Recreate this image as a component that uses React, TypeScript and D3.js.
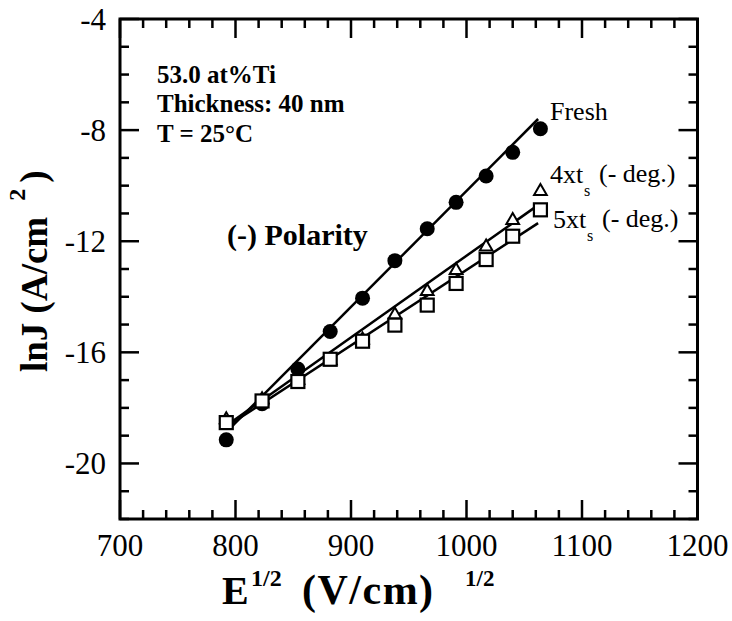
import React, { useEffect, useRef } from "react";
import * as d3 from "d3";

// sqrt(E) values (V/cm)^1/2, shared by all three runs
const fieldE = [792, 823, 854, 882, 910, 938, 966, 991, 1017, 1040, 1064];
const freshLnJ = [-19.15, -17.85, -16.6, -15.25, -14.05, -12.7, -11.55, -10.6, -9.65, -8.8, -7.95];
const deg4LnJ = [-18.42, -17.7, -17.0, -16.3, -15.55, -14.65, -13.8, -13.05, -12.2, -11.25, -10.2];
const deg5LnJ = [-18.53, -17.75, -17.05, -16.25, -15.6, -15.02, -14.3, -13.52, -12.66, -11.82, -10.87];

// fitted straight lines, start / end
const fitE = [795, 1062];
const freshFit = [-18.75, -7.6];
const deg4Fit = [-18.55, -10.7];
const deg5Fit = [-18.6, -11.35];

const xTicks = [700, 800, 900, 1000, 1100, 1200];
const yTicks = [-20, -16, -12, -8, -4];
const infoLines = ["53.0 at%Ti", "Thickness: 40 nm", "T = 25\u00B0C"];

const W = 732;
const H = 621;
const FONT = "'Liberation Serif', 'Times New Roman', Times, serif";

function App() {
  const ref = useRef<SVGSVGElement>(null);

  useEffect(() => {
    const svg = d3.select(ref.current);
    svg.selectAll("*").remove();

    const left = 120, right = 697.5, top = 19, bottom = 519;
    const x = d3.scaleLinear().domain([700, 1200]).range([left, right]);
    const y = d3.scaleLinear().domain([-22, -4]).range([bottom, top]);

    const g = svg.append("g").style("font-family", FONT);

    // ticks on all four sides, pointing inward
    const minorX = d3.range(700, 1201, 20);
    const minorY = d3.range(-22, -3, 1);
    const tickLen = (isMajor: boolean) => (isMajor ? 19 : 9);

    minorX.forEach((v) => {
      const len = tickLen(v % 100 === 0);
      g.append("line").attr("x1", x(v)).attr("x2", x(v)).attr("y1", bottom).attr("y2", bottom - len)
        .attr("stroke", "#000").attr("stroke-width", 2.5);
      g.append("line").attr("x1", x(v)).attr("x2", x(v)).attr("y1", top).attr("y2", top + len)
        .attr("stroke", "#000").attr("stroke-width", 2.5);
    });
    minorY.forEach((v) => {
      const len = tickLen(v % 4 === 0);
      g.append("line").attr("x1", left).attr("x2", left + len).attr("y1", y(v)).attr("y2", y(v))
        .attr("stroke", "#000").attr("stroke-width", 2.5);
      g.append("line").attr("x1", right).attr("x2", right - len).attr("y1", y(v)).attr("y2", y(v))
        .attr("stroke", "#000").attr("stroke-width", 2.5);
    });

    g.append("rect")
      .attr("x", left).attr("y", top)
      .attr("width", right - left).attr("height", bottom - top)
      .attr("fill", "none").attr("stroke", "#000").attr("stroke-width", 3);

    // tick labels
    g.selectAll(".xl").data(xTicks).enter().append("text")
      .attr("x", (d) => x(d)).attr("y", 556)
      .attr("text-anchor", "middle").style("font-size", "31px")
      .text((d) => d);
    g.selectAll(".yl").data(yTicks).enter().append("text")
      .attr("x", 106).attr("y", (d) => y(d) + 11)
      .attr("text-anchor", "end").style("font-size", "31px")
      .text((d) => d);

    // fitted lines
    const fits = [freshFit, deg4Fit, deg5Fit];
    const line = d3.line<[number, number]>().x((d) => x(d[0])).y((d) => y(d[1]));
    fits.forEach((f) => {
      g.append("path")
        .attr("d", line(fitE.map((e, i) => [e, f[i]] as [number, number])))
        .attr("fill", "none").attr("stroke", "#000").attr("stroke-width", 2.5);
    });

    // fresh: filled circles
    g.selectAll(".fresh").data(fieldE).enter().append("circle")
      .attr("cx", (d) => x(d)).attr("cy", (_, i) => y(freshLnJ[i]))
      .attr("r", 7.5).attr("fill", "#000");

    // 4xts: open triangles
    const tri = d3.symbol().type(d3.symbolTriangle).size(70);
    g.selectAll(".deg4").data(fieldE).enter().append("path")
      .attr("d", tri)
      .attr("transform", (d, i) => `translate(${x(d)},${y(deg4LnJ[i])})`)
      .attr("fill", "#fff").attr("stroke", "#000").attr("stroke-width", 2);

    // 5xts: open squares
    g.selectAll(".deg5").data(fieldE).enter().append("rect")
      .attr("x", (d) => x(d) - 6.5).attr("y", (_, i) => y(deg5LnJ[i]) - 6.5)
      .attr("width", 13).attr("height", 13)
      .attr("fill", "#fff").attr("stroke", "#000").attr("stroke-width", 2.2);

    // info block
    infoLines.forEach((t, i) => {
      g.append("text").attr("x", 157).attr("y", 83 + i * 29.3)
        .style("font-size", "25px").style("font-weight", "bold").text(t);
    });
    g.append("text").attr("x", 227).attr("y", 245)
      .style("font-size", "30px").style("font-weight", "bold").text("(-) Polarity");

    // series labels
    g.append("text").attr("x", 550).attr("y", 120).style("font-size", "26px").text("Fresh");
    const seriesLabel = (lx: number, ly: number, n: string) => {
      g.append("text").attr("x", lx).attr("y", ly).style("font-size", "26px").text(n + "xt");
      g.append("text").attr("x", lx + 34).attr("y", ly + 13).style("font-size", "16px").text("s");
      g.append("text").attr("x", lx + 49).attr("y", ly - 1).style("font-size", "26px").text("(- deg.)");
    };
    seriesLabel(550, 183, "4");
    seriesLabel(553, 228, "5");

    // axis titles
    const yt = g.append("text")
      .attr("transform", "translate(47,372) rotate(-90)")
      .style("font-size", "37px").style("font-weight", "bold");
    yt.append("tspan").text("lnJ (A/cm");
    yt.append("tspan").attr("dx", 16).attr("dy", -22).style("font-size", "24px").text("2");
    yt.append("tspan").attr("dx", 6).attr("dy", 21).text(")");

    const xt = g.append("g").style("font-weight", "bold");
    xt.append("text").attr("x", 222).attr("y", 604).style("font-size", "40px").text("E");
    xt.append("text").attr("x", 251).attr("y", 586).style("font-size", "24px").text("1/2");
    xt.append("text").attr("x", 302).attr("y", 604).style("font-size", "42px")
      .style("letter-spacing", "1.5px").text("(V/cm)");
    xt.append("text").attr("x", 465).attr("y", 586).style("font-size", "23px").text("1/2");
  }, []);

  return (
    <svg
      ref={ref}
      width={W}
      height={H}
      style={{ position: "absolute", left: 0, top: 0, background: "#fff" }}
    />
  );
}

export default App;
